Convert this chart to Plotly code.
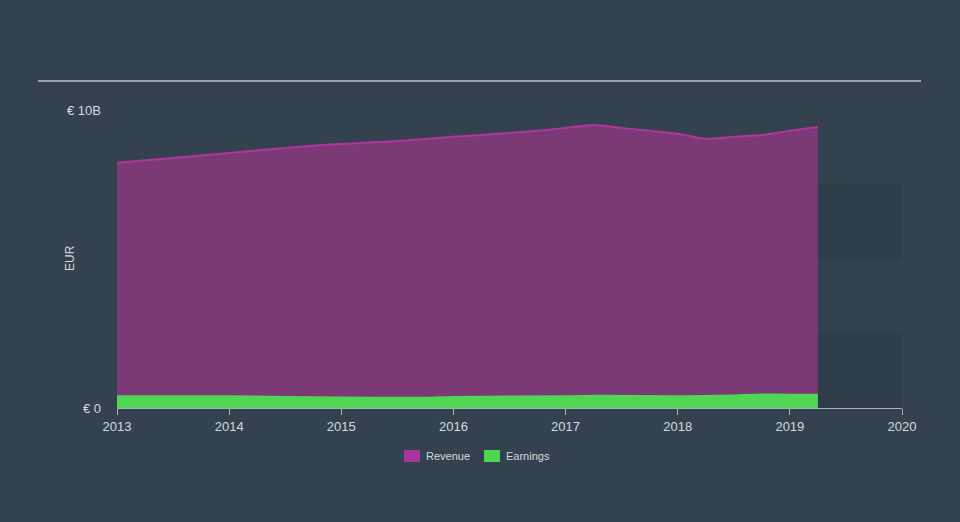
import plotly.graph_objects as go

# Data (EUR billions), quarterly-ish points
rev_x = [2013.0, 2013.5, 2014.0, 2014.75, 2015.0, 2015.5, 2016.0, 2016.5, 2016.75,
         2017.0, 2017.25, 2017.5, 2017.75, 2018.0, 2018.25, 2018.5, 2018.75, 2019.0, 2019.25]
rev_y = [8.23, 8.39, 8.56, 8.80, 8.86, 8.96, 9.10, 9.23, 9.30,
         9.40, 9.50, 9.40, 9.30, 9.20, 9.03, 9.10, 9.16, 9.30, 9.43]
earn_x = [2013.0, 2014.0, 2015.0, 2015.75, 2016.0, 2017.0, 2017.25, 2018.0, 2018.5, 2018.75, 2019.25]
earn_y = [0.40, 0.40, 0.36, 0.35, 0.38, 0.40, 0.42, 0.40, 0.43, 0.46, 0.45]
year_ticks = [2013, 2014, 2015, 2016, 2017, 2018, 2019, 2020]
y_ticks = [0, 10]
y_tick_text = ["€ 0", "€ 10B"]
legend_names = ["Revenue", "Earnings"]
legend_colors = ["#a8369a", "#4fd655"]

BG = "#34424f"
FONT = "Liberation Sans"
TXT = "#d5d9dd"

W, H = 960, 522
L, R, T, B = 117, 58, 110, 114
pw = W - L - R
ph = H - T - B

def px_x(p):
    return (p - L) / pw

def px_y(p):
    return (H - B - p) / ph

fig = go.Figure()

# forecast-region background bands
for y0, y1, col in [(0, 2.5, "#2f3c49"), (2.5, 5, "#33414f"), (5, 7.5, "#2f3c49")]:
    fig.add_shape(type="rect", xref="x", yref="y", x0=2019.25, x1=2020, y0=y0, y1=y1,
                  fillcolor=col, line_width=0, layer="below")

fig.add_trace(go.Scatter(x=rev_x, y=rev_y, mode="lines", fill="tozeroy",
                         line=dict(color="#b0359c", width=2, shape="spline", smoothing=0.6),
                         fillcolor="#7b3a76", showlegend=False, hoverinfo="skip"))
fig.add_trace(go.Scatter(x=earn_x, y=earn_y, mode="lines", fill="tozeroy",
                         line=dict(color="#4fd655", width=1.5, shape="spline", smoothing=0.6),
                         fillcolor="#4fd655", showlegend=False, hoverinfo="skip"))

# manual legend
legend_px = [(404, "Revenue"), (484, "Earnings")]
for (sx, name), col in zip(legend_px, legend_colors):
    fig.add_shape(type="rect", xref="paper", yref="paper",
                  x0=px_x(sx), x1=px_x(sx + 16), y0=px_y(462), y1=px_y(450),
                  fillcolor=col, line_width=0)
    fig.add_annotation(text=name, xref="paper", yref="paper", x=px_x(sx + 20), y=px_y(456),
                       showarrow=False, xanchor="left", yanchor="middle",
                       font=dict(family=FONT, size=11, color=TXT))

fig.add_shape(type="line", xref="paper", yref="paper", x0=px_x(38), x1=px_x(921),
              y0=px_y(81), y1=px_y(81), line=dict(color="#b8bec4", width=1.5))

fig.add_annotation(text="EUR", xref="paper", yref="paper", x=px_x(70), y=px_y(258),
                   textangle=-90, showarrow=False, font=dict(family=FONT, size=12, color=TXT),
                   xanchor="center", yanchor="middle")

fig.update_layout(
    width=W, height=H,
    margin=dict(l=L, r=R, t=T, b=B),
    paper_bgcolor=BG, plot_bgcolor=BG,
    font=dict(family=FONT, size=13, color=TXT),
    showlegend=False,
    xaxis=dict(range=[2013, 2020], tickvals=year_ticks, ticktext=[str(y) for y in year_ticks],
               showgrid=False, zeroline=False, showline=True, linecolor="#a9b0b8", linewidth=1,
               ticks="outside", ticklen=6, tickcolor="#a9b0b8", tickfont=dict(size=13, color=TXT)),
    yaxis=dict(range=[0, 10], tickvals=y_ticks, ticktext=y_tick_text, showgrid=False,
               zeroline=False, showline=False, ticks="", ticklabelstandoff=15,
               tickfont=dict(size=13, color=TXT)),
)

fig.write_html("out.html")
